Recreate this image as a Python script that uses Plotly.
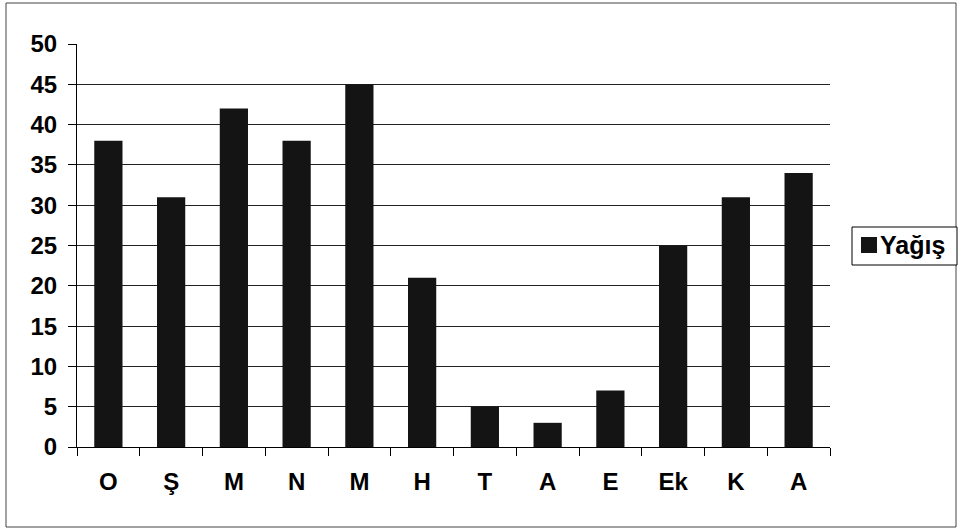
import plotly.graph_objects as go

months = ["O", "Ş", "M", "N", "M", "H", "T", "A", "E", "Ek", "K", "A"]
yagis = [38, 31, 42, 38, 45, 21, 5, 3, 7, 25, 31, 34]
y_ticks = [0, 5, 10, 15, 20, 25, 30, 35, 40, 45, 50]
series_name = "Yağış"

pos = list(range(len(months)))
bounds = [p - 0.5 for p in pos] + [pos[-1] + 0.5]

font = dict(family="Liberation Sans, Arial, sans-serif", size=24, color="black", weight="bold")
bar_color = "#141414"

fig = go.Figure()
fig.add_trace(go.Bar(
    x=pos, y=yagis, name=series_name,
    marker=dict(color=bar_color, line=dict(width=0)),
    width=0.45, showlegend=False,
))

L, R, T, B = 77, 131, 44, 84
W, H = 961, 531
pw, ph = W - L - R, H - T - B

def px(x):
    return (x - L) / pw

def py(y):
    return (H - B - y) / ph

fig.update_layout(
    width=W, height=H, autosize=False,
    margin=dict(l=L, r=R, t=T, b=B, autoexpand=False),
    paper_bgcolor="white", plot_bgcolor="white",
    font=font,
    showlegend=False,
)
fig.update_xaxes(
    range=[-0.5, len(months) - 0.5],
    tickvals=pos, ticktext=months,
    ticks="", showgrid=False, zeroline=False,
    showline=True, linecolor="black", linewidth=1,
    ticklabelstandoff=13,
    minor=dict(tickvals=bounds, ticks="outside", ticklen=8, tickcolor="black", showgrid=False),
)
fig.update_yaxes(
    range=[0, 50], tickvals=y_ticks,
    showgrid=True, gridcolor="#222", gridwidth=1,
    zeroline=False,
    showline=True, linecolor="black", linewidth=1,
    ticks="outside", ticklen=8, tickcolor="black",
    ticklabelstandoff=6,
)
# outer chart frame
fig.add_shape(
    type="rect", xref="paper", yref="paper",
    x0=px(6), x1=px(956), y0=py(527), y1=py(3),
    line=dict(color="#444", width=1), fillcolor="rgba(0,0,0,0)", layer="below",
)
# legend box
fig.add_shape(
    type="rect", xref="paper", yref="paper",
    x0=px(852), x1=px(957), y0=py(265), y1=py(227),
    line=dict(color="black", width=1), fillcolor="white",
)
fig.add_shape(
    type="rect", xref="paper", yref="paper",
    x0=px(861), x1=px(877), y0=py(253), y1=py(237),
    line=dict(color=bar_color, width=0), fillcolor=bar_color,
)
fig.add_annotation(
    xref="paper", yref="paper", x=px(878), y=py(245),
    xanchor="left", yanchor="middle", showarrow=False,
    text=series_name, font=dict(family=font["family"], size=25, color="black", weight="bold"),
)
fig.write_html(
    "out.html",
    config={"responsive": False, "displayModeBar": False},
    post_script="document.body.style.margin='0';document.body.style.overflow='hidden';",
)
